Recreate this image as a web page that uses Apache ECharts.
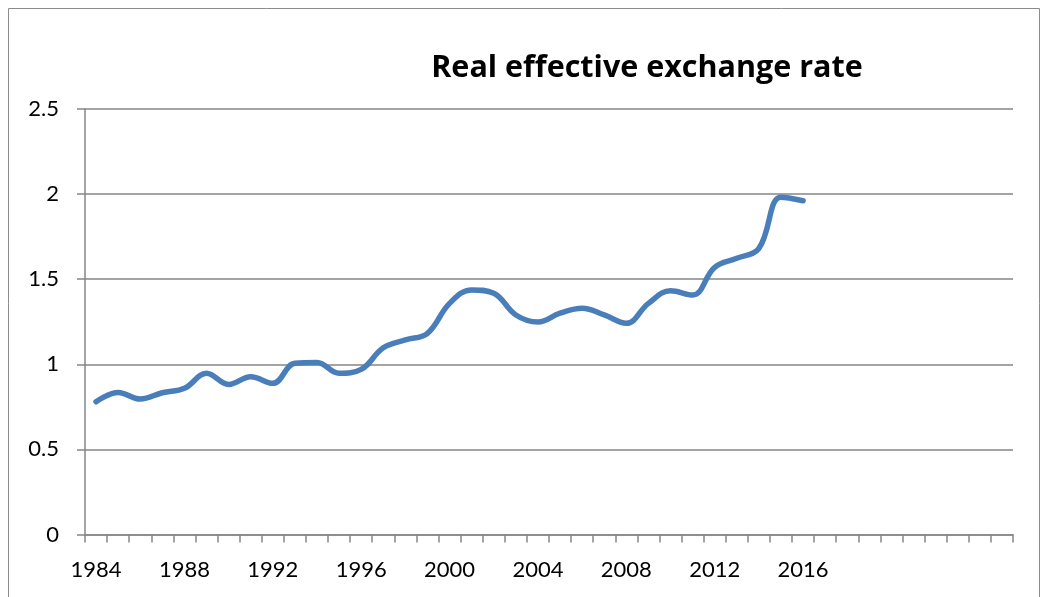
<!DOCTYPE html>
<html>
<head>
<meta charset="utf-8">
<script src="https://cdn.jsdelivr.net/npm/echarts@6/dist/echarts.min.js"></script>
<style>html,body{margin:0;padding:0;background:#fff;}#c{width:1045px;height:597px;}</style>
</head>
<body>
<div id="c"></div>
<script>
const years = [];
for (let y = 1984; y <= 2025; y++) years.push(String(y));
const xTickLabels = ['1984', '1988', '1992', '1996', '2000', '2004', '2008', '2012', '2016'];
const reer = [0.78, 0.835, 0.796, 0.833, 0.859, 0.947, 0.882, 0.927, 0.888, 1.006, 1.01, 0.947, 0.97, 1.097,
  1.143, 1.182, 1.358, 1.437, 1.417, 1.29, 1.249, 1.30, 1.329, 1.29, 1.241, 1.358, 1.432, 1.407,
  1.570, 1.623, 1.681, 1.981, 1.961];
const yTicks = [0, 0.5, 1, 1.5, 2, 2.5];
const titleText = 'Real effective exchange rate';

const chart = echarts.init(document.getElementById('c'), null, {renderer: 'canvas'});
chart.setOption({
  animation: false,
  backgroundColor: '#ffffff',
  graphic: [{
    type: 'rect', shape: {x: 8.5, y: 8.5, width: 1031, height: 600},
    style: {fill: 'none', stroke: '#8c8c8c', lineWidth: 1}, silent: true, z: -1
  }],
  title: {
    text: titleText, left: 642, top: 48, textAlign: 'center',
    textStyle: {fontFamily: 'Open Sans', fontWeight: 'bold', fontSize: 30.5, color: '#000'}
  },
  grid: {left: 85, right: 32, top: 109, bottom: 62.5, containLabel: false},
  xAxis: {
    type: 'category', data: years, boundaryGap: true,
    axisLine: {lineStyle: {color: '#868686', width: 1.5}},
    axisTick: {show: true, interval: 0, length: 8, lineStyle: {color: '#868686', width: 1.5}},
    axisLabel: {interval: 3, margin: 24, fontFamily: 'Lato', fontSize: 22, color: '#000',
      formatter: v => xTickLabels.includes(v) ? v : ''},
    splitLine: {show: false}
  },
  yAxis: {
    type: 'value', min: 0, max: 2.5, interval: 0.5,
    axisLine: {show: true, lineStyle: {color: '#868686', width: 1.5}},
    axisTick: {show: true, length: 8, lineStyle: {color: '#868686', width: 1.5}},
    axisLabel: {margin: 26, fontFamily: 'Lato', fontSize: 22, color: '#000',
      formatter: v => yTicks.includes(v) ? String(v) : ''},
    splitLine: {show: true, lineStyle: {color: '#868686', width: 1.5}}
  },
  series: [{
    type: 'line', data: reer, smooth: 0.4, showSymbol: false, symbol: 'none',
    lineStyle: {color: '#4a7ebb', width: 5.5, cap: 'round', join: 'round'}
  }]
});
</script>
</body>
</html>
